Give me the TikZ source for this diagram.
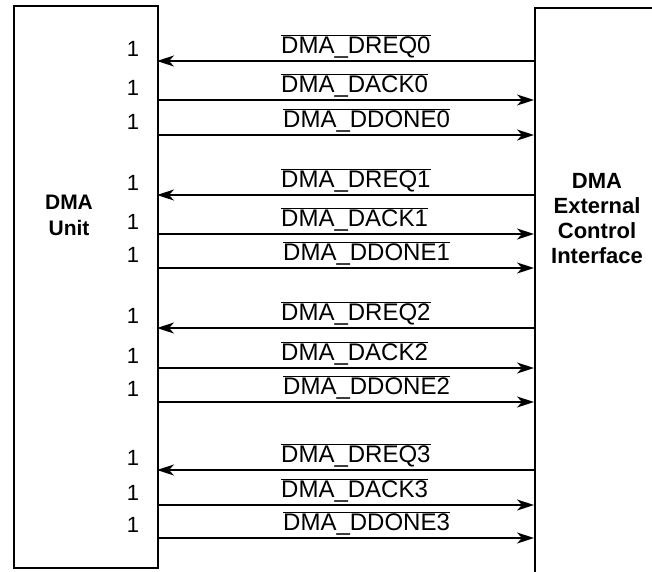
\documentclass[tikz,border=0pt]{standalone}
\usepackage{fontspec}
\setmainfont{Liberation Sans}
\usepackage{tikz}
\usetikzlibrary{arrows.meta}
\newcommand{\sigbar}[1]{$\overline{\mbox{#1}}$}

\begin{document}
\begin{tikzpicture}[x=1pt,y=-1pt, line width=1.8pt,
    >={Stealth[length=17pt,width=11pt,inset=5pt]}]
  \path[use as bounding box] (0,0) rectangle (652,571);
  \clip (0,0) rectangle (652,571);

  % the two blocks (right one runs off the page)
  \node[draw, line width=2.2pt, inner sep=0pt, anchor=north west,
        minimum width=144pt, minimum height=562pt] (unit) at (13,5) {};
  \node[draw, line width=2.2pt, inner sep=0pt, anchor=north west,
        minimum width=200pt, minimum height=600pt] (eci) at (534,7) {};

  \node[align=center, font=\fontsize{21}{26}\selectfont\bfseries] (unitlbl) at (69,215) {DMA\\Unit};
  \node[align=center, font=\fontsize{22}{25}\selectfont\bfseries] (ecilbl) at (597,219) {DMA\\External\\Control\\Interface};

  % one group of three signals per channel
  \foreach \g/\ya/\yb/\yc in {0/61/100/135, 1/195/234/268, 2/328/368/402, 3/470/505/538}{
    \coordinate (req\g-l) at (157,\ya);
    \coordinate (req\g-r) at (534,\ya);
    \coordinate (ack\g-l) at (157,\yb);
    \coordinate (ack\g-r) at (534,\yb);
    \coordinate (done\g-l) at (157,\yc);
    \coordinate (done\g-r) at (534,\yc);

    \draw[->] (req\g-r) -- (req\g-l);
    \draw[->] (ack\g-l) -- (ack\g-r);
    \draw[->] (done\g-l) -- (done\g-r);

    \node[anchor=base west, font=\fontsize{24}{28}\selectfont] (reqlbl\g) at (277,\ya-8) {\sigbar{DMA\_DREQ\g}};
    \node[anchor=base west, font=\fontsize{24}{28}\selectfont] (acklbl\g) at (277,\yb-8) {\sigbar{DMA\_DACK\g}};
    \node[anchor=base west, font=\fontsize{24}{28}\selectfont] (donelbl\g) at (279,\yc-8) {\sigbar{DMA\_DDONE\g}};

    \node[anchor=base, font=\fontsize{22}{24}\selectfont] (reqw\g) at (133,\ya-5) {1};
    \node[anchor=base, font=\fontsize{22}{24}\selectfont] (ackw\g) at (133,\yb-5) {1};
    \node[anchor=base, font=\fontsize{22}{24}\selectfont] (donew\g) at (133,\yc-6) {1};
  }
\end{tikzpicture}
\end{document}
